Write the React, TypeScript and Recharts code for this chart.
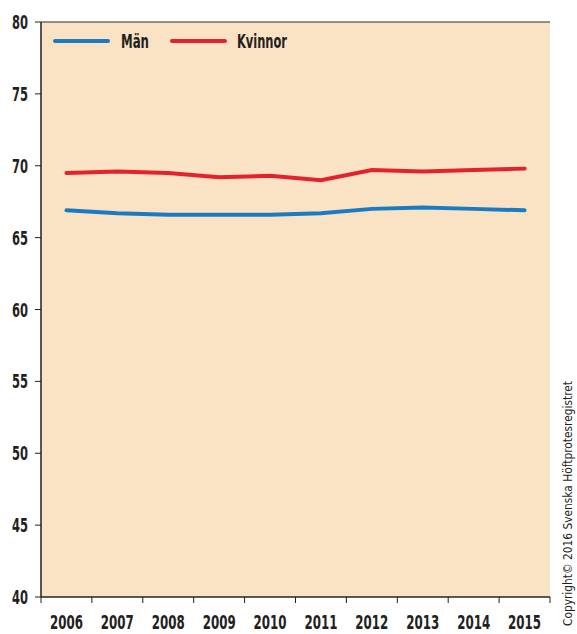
import { CartesianGrid, Line, LineChart, XAxis, YAxis } from "recharts";

const years = ["2006", "2007", "2008", "2009", "2010", "2011", "2012", "2013", "2014", "2015"];
const man = [66.9, 66.7, 66.6, 66.6, 66.6, 66.7, 67.0, 67.1, 67.0, 66.9];
const kvinnor = [69.5, 69.6, 69.5, 69.2, 69.3, 69.0, 69.7, 69.6, 69.7, 69.8];
const yTicks = [40, 45, 50, 55, 60, 65, 70, 75, 80];

const data = years.map((year, i) => ({ year, man: man[i], kvinnor: kvinnor[i] }));

const FONT = "'DejaVu Sans', sans-serif";
const INK = "#231f20";
const BLUE = "#1b7bc2";
const RED = "#e4222b";
const WIDTH = 577;
const HEIGHT = 634;
const PLOT_LEFT = 41;
const PLOT_RIGHT = 550;
const HALF_BAND = (PLOT_RIGHT - PLOT_LEFT) / years.length / 2;

// condensed look: squeeze glyphs with textLength
const Narrow = (props: any) => {
  const { children, len, ...rest } = props;
  return (
    <text
      fontFamily={FONT}
      fontStretch="condensed"
      fontWeight={700}
      fill={INK}
      textLength={len}
      lengthAdjust="spacingAndGlyphs"
      {...rest}
    >
      {children}
    </text>
  );
};

// Tick marks sit between the years, not under them.
const YearTick = (props: any) => {
  const { x, y, payload, index } = props;
  const last = index === years.length - 1;
  return (
    <g>
      <line x1={x - HALF_BAND} x2={x - HALF_BAND} y1={y - 8} y2={y - 2} stroke={INK} strokeWidth={1} />
      {last && <line x1={x + HALF_BAND} x2={x + HALF_BAND} y1={y - 8} y2={y - 2} stroke={INK} strokeWidth={1} />}
      <Narrow x={x} y={y + 24} textAnchor="middle" fontSize={19} len={33}>
        {payload.value}
      </Narrow>
    </g>
  );
};

const ValueTick = (props: any) => {
  const { x, y, payload } = props;
  return (
    <Narrow x={x} y={y + 7} textAnchor="end" fontSize={20} len={16}>
      {payload.value}
    </Narrow>
  );
};

const Overlay = () => (
  <svg
    width={WIDTH}
    height={HEIGHT}
    style={{ position: "absolute", left: 0, top: 0, pointerEvents: "none" }}
  >
    <line x1={55} x2={108} y1={41} y2={41} stroke={BLUE} strokeWidth={4} strokeLinecap="round" />
    <Narrow x={121} y={48} fontSize={20} len={28}>Män</Narrow>
    <line x1={172} x2={225} y1={41} y2={41} stroke={RED} strokeWidth={4} strokeLinecap="round" />
    <Narrow x={237} y={48} fontSize={20} len={50}>Kvinnor</Narrow>
    <text
      transform="translate(572 626) rotate(-90)"
      fontFamily={FONT}
      fontSize={12.5}
      fill={INK}
      textLength={245}
      lengthAdjust="spacingAndGlyphs"
    >
      Copyright© 2016 Svenska Höftprotesregistret
    </text>
  </svg>
);

const App = () => (
  <div style={{ position: "absolute", left: 0, top: 0, width: WIDTH, height: HEIGHT, background: "#fff" }}>
    <LineChart
      width={WIDTH}
      height={HEIGHT}
      data={data}
      margin={{ top: 22, right: WIDTH - PLOT_RIGHT, bottom: 7, left: 0 }}
    >
      <CartesianGrid vertical={false} fill="#fae3c4" stroke="#2a2a2a" strokeWidth={1} fillOpacity={1} />
      <XAxis
        dataKey="year"
        padding={{ left: HALF_BAND, right: HALF_BAND }}
        height={30}
        tickLine={false}
        axisLine={{ stroke: INK, strokeWidth: 1 }}
        tick={<YearTick />}
        interval={0}
      />
      <YAxis
        yAxisId="left"
        width={PLOT_LEFT}
        domain={[40, 80]}
        ticks={yTicks}
        interval={0}
        tickSize={6}
        tickMargin={7}
        axisLine={{ stroke: INK, strokeWidth: 1.5 }}
        tickLine={{ stroke: INK }}
        tick={<ValueTick />}
      />
      <YAxis yAxisId="right" orientation="right" width={0} tick={false} tickLine={false} axisLine={{ stroke: "#888" }} />
      <Line
        yAxisId="left"
        type="linear"
        dataKey="man"
        name="Män"
        stroke={BLUE}
        strokeWidth={4}
        strokeLinecap="round"
        dot={false}
        activeDot={false}
        isAnimationActive={false}
      />
      <Line
        yAxisId="left"
        type="linear"
        dataKey="kvinnor"
        name="Kvinnor"
        stroke={RED}
        strokeWidth={4}
        strokeLinecap="round"
        dot={false}
        activeDot={false}
        isAnimationActive={false}
      />
    </LineChart>
    <Overlay />
  </div>
);

export default App;
